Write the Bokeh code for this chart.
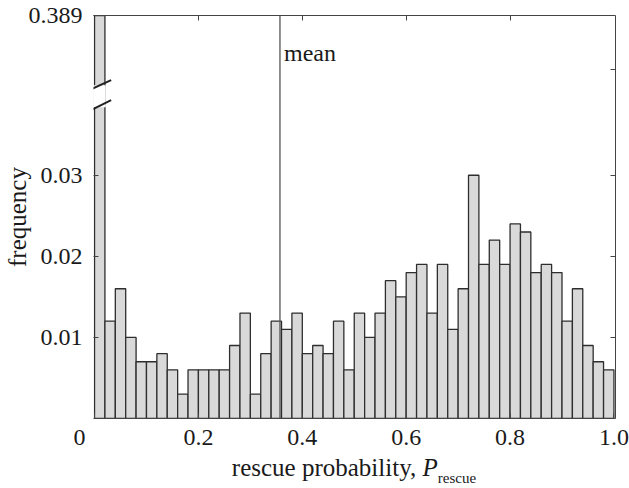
from bokeh.plotting import figure
from bokeh.layouts import column
from bokeh.models import Range1d, LinearAxis, FixedTicker, Span, Label, Arrow, Div
from bokeh.embed import file_html
from bokeh.resources import INLINE

# ---------------- data ----------------
bin_start = 0.0
bin_width = 0.02
frequency = [0.389, 0.012, 0.016, 0.010, 0.007, 0.007, 0.008, 0.006, 0.003, 0.006,
             0.006, 0.006, 0.006, 0.009, 0.013, 0.003, 0.008, 0.012, 0.011, 0.013,
             0.008, 0.009, 0.008, 0.012, 0.006, 0.013, 0.010, 0.013, 0.017, 0.015,
             0.018, 0.019, 0.013, 0.019, 0.011, 0.016, 0.030, 0.019, 0.022, 0.019,
             0.024, 0.023, 0.018, 0.019, 0.018, 0.012, 0.016, 0.009, 0.007, 0.006]
mean_p = 0.357
x_ticks = [0, 0.2, 0.4, 0.6, 0.8, 1.0]
x_tick_labels = ["0", "0.2", "0.4", "0.6", "0.8", "1.0"]
y_ticks = [0.01, 0.02, 0.03]
y_tick_labels = ["0.01", "0.02", "0.03"]
broken_top_label = "0.389"
y_title = "frequency"

# ---------------- broken-axis display scale ----------------
Y_TOP = 0.0497            # display value at the top of the frame (stands for 0.389)
BREAK_LO, BREAK_HI = 0.0384, 0.0411
RIGHT_EXTRA_TICK = 0.0431

FONT = "Liberation Serif"
TXT = "#1a1a1a"
LINE = "#444444"
NB = "\u00a0"

n = len(frequency)
left = [bin_start + i * bin_width for i in range(n)]
right = [l + bin_width for l in left]
top_disp = [min(v, Y_TOP) for v in frequency]

p = figure(width=629, height=452, output_backend="svg", toolbar_location=None,
           x_range=Range1d(-0.002, 1.003), y_range=Range1d(0, Y_TOP),
           min_border_left=93, min_border_right=14, min_border_top=15, min_border_bottom=34,
           x_axis_location=None, y_axis_location=None)
p.grid.visible = False
p.outline_line_color = None
p.background_fill_color = "white"
p.border_fill_color = "white"


def mk_axis(ticks, labels=None, show_labels=True, line=True, standoff=8):
    ax = LinearAxis(ticker=FixedTicker(ticks=ticks))
    ax.major_tick_in = 5
    ax.major_tick_out = 0
    ax.minor_tick_line_color = None
    ax.axis_line_color = LINE if line else None
    ax.major_tick_line_color = LINE
    ax.major_label_text_font = FONT
    ax.major_label_text_font_size = "24px"
    ax.major_label_text_color = TXT
    ax.major_label_standoff = standoff
    if labels is not None:
        ax.major_label_overrides = {t: l for t, l in zip(ticks, labels)}
    if not show_labels:
        ax.major_label_text_color = None
        ax.major_label_text_font_size = "1px"
        ax.major_label_standoff = 0
    return ax


left_ax = mk_axis(y_ticks + [Y_TOP], y_tick_labels + [broken_top_label], line=False, standoff=11)
left_ax.axis_label = y_title
left_ax.axis_label_text_font = FONT
left_ax.axis_label_text_font_size = "25px"
left_ax.axis_label_text_font_style = "normal"
left_ax.axis_label_text_color = TXT
left_ax.axis_label_standoff = -5

# the corner "0" sits left of the axis origin in the reference
bottom_labels = [x_tick_labels[0] + NB * 5] + x_tick_labels[1:]
bottom_ax = mk_axis(x_ticks, bottom_labels, standoff=5)
top_ax = mk_axis(x_ticks[1:-1], show_labels=False)
right_ax = mk_axis(y_ticks + [RIGHT_EXTRA_TICK], show_labels=False)
p.add_layout(left_ax, "left")
p.add_layout(bottom_ax, "below")
p.add_layout(top_ax, "above")
p.add_layout(right_ax, "right")

# bars
p.quad(left=left, right=right, bottom=0, top=top_disp,
       fill_color="#d9d9d9", line_color="#2e2e2e", line_width=1.3)

# axis break: gap in the tall bar and the frame
p.quad(left=[-0.01], right=[bin_start + bin_width + 0.0015], bottom=[BREAK_LO], top=[BREAK_HI],
       fill_color="white", line_color=None)
for y0, y1 in [(0.04058, 0.04173), (0.0380, 0.03926)]:
    p.add_layout(Arrow(end=None, x_start=-0.0077, y_start=y0, x_end=0.032, y_end=y1,
                       line_color="#222222", line_width=2))

# mean line
p.add_layout(Span(location=mean_p, dimension="height", line_color="#555555", line_width=1.3))
p.add_layout(Label(x=mean_p, y=Y_TOP, x_offset=4, y_offset=-37, text="mean",
                   text_font=FONT, text_font_size="24px", text_color=TXT,
                   text_baseline="alphabetic", text_align="left"))

# x axis title: "rescue probability, P_rescue"
xlabel = Div(
    text=('rescue probability, <i>P</i>'
          '<span style="font-size:15px; position:relative; top:7px;">rescue</span>'),
    width=522, height=30, margin=(3, 0, 0, 93),
    styles={"font-family": FONT, "font-size": "25px", "line-height": "25px",
            "text-align": "center", "color": TXT, "white-space": "nowrap"})

layout = column(p, xlabel, spacing=0)
open("out.html", "w").write(file_html(layout, INLINE))
